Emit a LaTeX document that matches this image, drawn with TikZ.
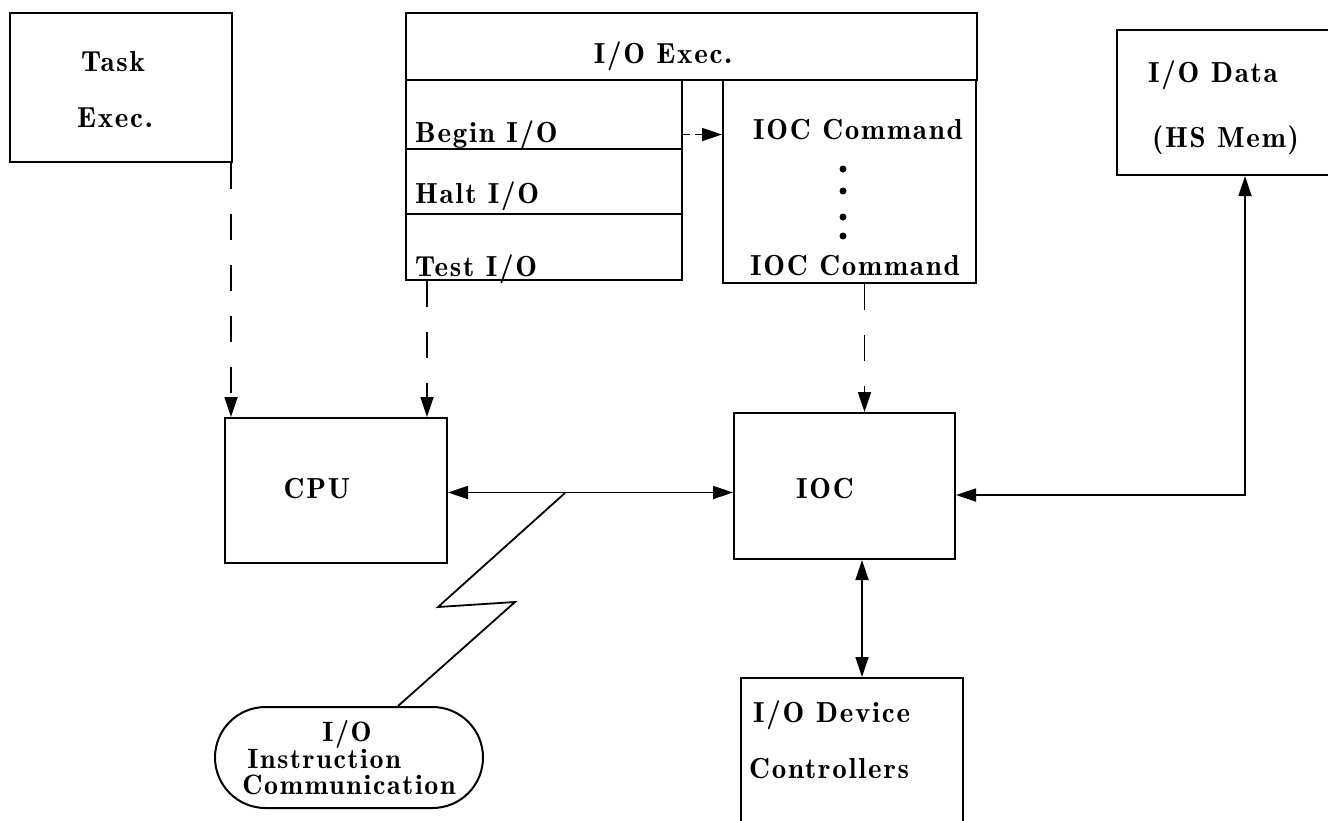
\documentclass[tikz,border=0pt]{standalone}
\usepackage{fontspec}
\setmainfont{lmromandemi10-regular.otf}[LetterSpace=6]
\usetikzlibrary{arrows.meta}
\usetikzlibrary{shapes.misc}

\begin{document}
\begin{tikzpicture}[x=1pt,y=-1pt]
	\tikzstyle{every node}=[font=\fontsize{29}{24}\selectfont]
	\tikzstyle{box}=[draw,line width=2pt,inner sep=0pt]
	\tikzstyle{txt}=[inner sep=0pt,anchor=base]
	\tikzstyle{dot}=[circle,fill,inner sep=0pt,minimum size=7pt]
	\tikzstyle{link}=[line width=1.8pt,-{Triangle[length=20pt,width=13pt]}]
	\tikzstyle{dlink}=[link,dash pattern=on 26pt off 25pt]
	\tikzstyle{dual}=[line width=1.8pt,{Triangle[length=20pt,width=13pt]}-{Triangle[length=20pt,width=13pt]}]
	\useasboundingbox (0,0) rectangle (1328,820);

	% boxes
	\node[box,minimum width=222pt,minimum height=149pt] (task) at (121,87.5) {};
	\node[box,minimum width=571pt,minimum height=67pt] (ioexec) at (691.5,46.5) {};
	\node[box,minimum width=276pt,minimum height=69pt] (beginio) at (544,114.5) {};
	\node[box,minimum width=276pt,minimum height=65pt] (haltio) at (544,181.5) {};
	\node[box,minimum width=276pt,minimum height=66pt] (testio) at (544,247) {};
	\node[box,minimum width=253pt,minimum height=203pt] (ioccmd) at (849.5,181.5) {};
	\node[box,minimum width=223pt,minimum height=145pt] (iodata) at (1228.5,102.5) {};
	\node[box,minimum width=222pt,minimum height=145pt] (cpu) at (336,490.5) {};
	\node[box,minimum width=221pt,minimum height=146pt] (ioc) at (844.5,486) {};
	\node[box,minimum width=222pt,minimum height=157pt] (devctl) at (852,756.5) {};
	\node[box,rounded rectangle,minimum width=268pt,minimum height=101pt,align=left,
		font=\fontsize{28}{26}\selectfont] (instr) at (349,757.5)
		{\hspace*{80pt}I/O\\\hspace*{5pt}Instruction\\Communication};

	% texts
	\node[txt] (tasktop) at (113,71) {Task};
	\node[txt] (taskbot) at (115,127) {Exec.};
	\node[txt] (ioexectxt) at (663,63) {I/O Exec.};
	\node[txt,anchor=base west] (begintxt) at (415,142) {Begin I/O};
	\node[txt,anchor=base west] (halttxt) at (415,203) {Halt I/O};
	\node[txt,anchor=base west] (testtxt) at (415,276) {Test I/O};
	\node[txt] (cmdtop) at (858,139) {IOC Command};
	\node[txt] (cmdbot) at (855,275) {IOC Command};
	\foreach \y [count=\i] in {169,191,217,236}
		\node[dot] (dot\i) at (843,\y) {};
	\node[txt,anchor=base west] (datatop) at (1148,82) {I/O Data};
	\node[txt,anchor=base west] (databot) at (1152,147) {(HS Mem)};
	\node[txt] (cputxt) at (317,498) {CPU};
	\node[txt] (ioctxt) at (825,498) {IOC};
	\node[txt,anchor=base west] (devtop) at (753,722) {I/O Device};
	\node[txt,anchor=base west] (devbot) at (749,778) {Controllers};

	% connectors
	\draw[dlink] ([xshift=-2pt]task.south east) -- ([xshift=-2pt]task.south east |- cpu.north);
	\draw[dlink] ([xshift=22pt]testio.south west) -- ([xshift=22pt]testio.south west |- cpu.north);
	\draw[link,dash pattern=on 7pt off 5pt] ([yshift=-20pt]beginio.east) -- ([yshift=-20pt]beginio.east -| ioccmd.west);
	\draw[dlink] ([xshift=15pt]ioccmd.south) -- ([xshift=15pt]ioccmd.south |- ioc.north);
	\draw[dual] ([yshift=-2pt]cpu.east) -- ([yshift=-2pt]cpu.east -| ioc.west);
	\draw[dual] ([yshift=-9pt]ioc.east) -| ([xshift=16.5pt]iodata.south);
	\draw[dual] ([xshift=17.5pt]ioc.south) -- ([xshift=17.5pt]ioc.south |- devctl.north);
	\coordinate (tap) at (565,493);
	\draw[line width=1.8pt] (tap) -- (438,607) -- (515,602) -- ([xshift=49pt]instr.north);
\end{tikzpicture}
\end{document}
